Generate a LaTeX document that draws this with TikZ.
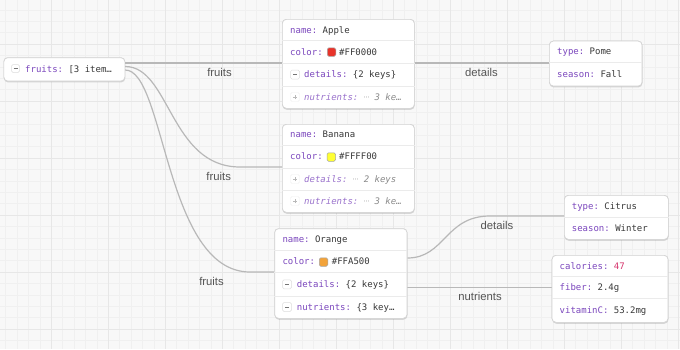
\documentclass[tikz,border=0pt]{standalone}
\usepackage{fontspec}
\setmainfont{Liberation Sans}
\setmonofont{DejaVu Sans Mono}
\newfontfamily\dejasans{DejaVu Sans}
\usetikzlibrary{shadows}
\definecolor{bgcol}{HTML}{F8F8F8}
\definecolor{minorcol}{HTML}{F0F0F0}
\definecolor{majorcol}{HTML}{E7E7E7}
\definecolor{boxline}{HTML}{D4D4D4}
\definecolor{sepcol}{HTML}{EBEBEB}
\definecolor{keycol}{HTML}{7B47BD}
\definecolor{keylight}{HTML}{9A72CC}
\definecolor{valcol}{HTML}{383838}
\definecolor{greycol}{HTML}{8A8A8A}
\definecolor{numcol}{HTML}{D6336C}
\definecolor{edgecol}{HTML}{B8B8B8}
\definecolor{labcol}{HTML}{555555}
\definecolor{btnline}{HTML}{DDDDDD}
\definecolor{swred}{HTML}{E8332A}
\definecolor{swyellow}{HTML}{FFFF33}
\definecolor{sworange}{HTML}{F2A33A}
\newcommand{\mtext}{\fontsize{9}{10}\selectfont\ttfamily}
\newcommand{\ltext}{\fontsize{11.3}{13}\selectfont\rmfamily}
\newcommand{\mdots}{\makebox[0.602em][c]{\raisebox{0.3pt}{\fontsize{6.5}{7}\selectfont\dejasans ⋯}}}
\tikzset{
  box/.style={draw=boxline, fill=white, line width=0.7pt, rounded corners=4pt,
    inner sep=0pt, anchor=north west,
    drop shadow={shadow xshift=0.3pt, shadow yshift=-1.4pt, opacity=0.15}},
  sepline/.style={draw=sepcol, line width=0.6pt},
  txt/.style={anchor=base west, inner sep=0pt, font=\mtext, text=valcol},
  coll/.style={anchor=base west, inner sep=0pt, font=\mtext\itshape, text=greycol},
  btn/.style={draw=btnline, fill=white, rounded corners=1.5pt, minimum size=9pt,
    inner sep=0pt, line width=0.5pt},
  pbtn/.style={draw=btnline!45, fill=white, rounded corners=1.5pt, minimum size=9pt,
    inner sep=0pt, line width=0.4pt},
  btnminus/.style={draw=valcol!70, line width=0.7pt},
  btnplus/.style={draw=greycol!60, line width=0.6pt},
  swatch/.style={draw=black!35, rounded corners=1.5pt, minimum size=8.5pt,
    inner sep=0pt, line width=0.5pt},
  edge/.style={draw=edgecol, line width=1.2pt},
  elabel/.style={font=\ltext, text=labcol, inner sep=0pt, anchor=center},
}
\begin{document}
\begin{tikzpicture}[x=1pt, y=-1pt]
\useasboundingbox (0,0) rectangle (680,349);
\fill[bgcol] (0,0) rectangle (680,349);
% grid
\foreach \i in {0,...,60} {\draw[minorcol, line width=0.5pt] ({-5.7+11.4*\i},0) -- ({-5.7+11.4*\i},349);}
\foreach \i in {0,...,31} {\draw[minorcol, line width=0.5pt] (0,{-1.6+11.4*\i}) -- (680,{-1.6+11.4*\i});}
\foreach \i in {0,...,12} {\draw[majorcol, line width=0.8pt] ({-5.7+57*\i},0) -- ({-5.7+57*\i},349);}
\foreach \i in {0,...,7} {\draw[majorcol, line width=0.8pt] (0,{-13+57*\i}) -- (680,{-13+57*\i});}

% ---------- boxes ----------
\node[box, minimum width=121pt, minimum height=23.4pt] (root) at (3.5,57.3) {};
\node[box, minimum width=132pt, minimum height=89pt] (apple) at (282,19) {};
\node[box, minimum width=132pt, minimum height=88pt] (banana) at (282,124) {};
\node[box, minimum width=132.4pt, minimum height=89.7pt] (orange) at (274.3,228.3) {};
\node[box, minimum width=92.7pt, minimum height=45pt] (pome) at (549,40.7) {};
\node[box, minimum width=104pt, minimum height=44pt] (citrus) at (564,195) {};
\node[box, minimum width=116pt, minimum height=67pt] (nutri) at (551.7,255) {};

% ---------- edges ----------
\draw[edge] (root.east |- 0,63) -- (apple.west |- 0,63);
\draw[edge] (root.east |- 0,66.5) .. controls (170,66.5) and (170,167) .. (240,167) -- (banana.west |- 0,167);
\draw[edge] (root.east |- 0,70) .. controls (165,70) and (165,272) .. (250,272) -- (orange.west |- 0,272);
\draw[edge] (apple.east |- 0,63) -- (pome.west |- 0,63);
\draw[edge] (orange.east |- 0,258) .. controls (445,258) and (445,216) .. (490,216) -- (citrus.west |- 0,216);
\draw[edge] (orange.east |- 0,287.5) -- (nutri.west |- 0,287.5);

\node[elabel] (lf1) at (219.5,72) {fruits};
\node[elabel] (lf2) at (218.7,176.7) {fruits};
\node[elabel] (lf3) at (211.5,281.7) {fruits};
\node[elabel] (ld1) at (481.5,72) {details};
\node[elabel] (ld2) at (497,225) {details};
\node[elabel] (ln) at (480,296.7) {nutrients};

% redraw boxes on top of edges
\node[box, minimum width=121pt, minimum height=23.4pt] at (3.5,57.3) {};
\node[box, minimum width=132pt, minimum height=89pt] at (282,19) {};
\node[box, minimum width=132pt, minimum height=88pt] at (282,124) {};
\node[box, minimum width=132.4pt, minimum height=89.7pt] at (274.3,228.3) {};
\node[box, minimum width=92.7pt, minimum height=45pt] at (549,40.7) {};
\node[box, minimum width=104pt, minimum height=44pt] at (564,195) {};
\node[box, minimum width=116pt, minimum height=67pt] at (551.7,255) {};

% ---------- root ----------
\node[btn, minimum size=8pt] (rootbtn) at (15.5,68.5) {};
\draw[btnminus] ([xshift=-2pt]rootbtn.center) -- ([xshift=2pt]rootbtn.center);
\node[txt] (roott) at (25,72) {\textcolor{keycol}{fruits:} [3 item…};

% ---------- apple ----------
\foreach \y in {40.7,63.3,86} {\draw[sepline] (apple.west |- 0,\y) -- (apple.east |- 0,\y);}
\node[txt] (a1) at (290,33) {\textcolor{keycol}{name:} Apple};
\node[txt] (a2) at (290,55.2) {\textcolor{keycol}{color:}};
\node[swatch, fill=swred] (asw) at (331.5,52) {};
\node[txt] (a2v) at (339,55.2) {\#FF0000};
\node[btn] (ab3) at (295,74.6) {};
\draw[btnminus] ([xshift=-2pt]ab3.center) -- ([xshift=2pt]ab3.center);
\node[txt] (a3) at (304,77.8) {\textcolor{keycol}{details:} \{2 keys\}};
\node[pbtn] (ab4) at (295,97) {};
\draw[btnplus] ([xshift=-2pt]ab4.center) -- ([xshift=2pt]ab4.center);
\draw[btnplus] ([yshift=-2pt]ab4.center) -- ([yshift=2pt]ab4.center);
\node[coll] (a4) at (304,100.2) {\textcolor{keylight}{nutrients:} \mdots\ 3 ke…};

% ---------- banana ----------
\foreach \y in {145,168,190} {\draw[sepline] (banana.west |- 0,\y) -- (banana.east |- 0,\y);}
\node[txt] (b1) at (290,137.7) {\textcolor{keycol}{name:} Banana};
\node[txt] (b2) at (290,159.9) {\textcolor{keycol}{color:}};
\node[swatch, fill=swyellow] (bsw) at (331.3,157) {};
\node[txt] (b2v) at (339,159.9) {\#FFFF00};
\node[pbtn] (bb3) at (295,179) {};
\draw[btnplus] ([xshift=-2pt]bb3.center) -- ([xshift=2pt]bb3.center);
\draw[btnplus] ([yshift=-2pt]bb3.center) -- ([yshift=2pt]bb3.center);
\node[coll] (b3) at (304,182.2) {\textcolor{keylight}{details:} \mdots\ 2 keys};
\node[pbtn] (bb4) at (295,201) {};
\draw[btnplus] ([xshift=-2pt]bb4.center) -- ([xshift=2pt]bb4.center);
\draw[btnplus] ([yshift=-2pt]bb4.center) -- ([yshift=2pt]bb4.center);
\node[coll] (b4) at (304,204.2) {\textcolor{keylight}{nutrients:} \mdots\ 3 ke…};

% ---------- orange ----------
\foreach \y in {250.7,272.7,296} {\draw[sepline] (orange.west |- 0,\y) -- (orange.east |- 0,\y);}
\node[txt] (o1) at (282.3,242.7) {\textcolor{keycol}{name:} Orange};
\node[txt] (o2) at (282.3,264.9) {\textcolor{keycol}{color:}};
\node[swatch, fill=sworange] (osw) at (323.5,262) {};
\node[txt] (o2v) at (331.7,264.9) {\#FFA500};
\node[btn] (ob3) at (287,284.3) {};
\draw[btnminus] ([xshift=-2pt]ob3.center) -- ([xshift=2pt]ob3.center);
\node[txt] (o3) at (296.7,287.5) {\textcolor{keycol}{details:} \{2 keys\}};
\node[btn] (ob4) at (287,307) {};
\draw[btnminus] ([xshift=-2pt]ob4.center) -- ([xshift=2pt]ob4.center);
\node[txt] (o4) at (296.7,310.2) {\textcolor{keycol}{nutrients:} \{3 key…};

% ---------- pome ----------
\draw[sepline] (pome.west |- 0,62.3) -- (pome.east |- 0,62.3);
\node[txt] (p1) at (557,54.7) {\textcolor{keycol}{type:} Pome};
\node[txt] (p2) at (557,77.2) {\textcolor{keycol}{season:} Fall};

% ---------- citrus ----------
\draw[sepline] (citrus.west |- 0,217) -- (citrus.east |- 0,217);
\node[txt] (c1) at (571.7,209.2) {\textcolor{keycol}{type:} Citrus};
\node[txt] (c2) at (571.7,231.2) {\textcolor{keycol}{season:} Winter};

% ---------- nutrients ----------
\foreach \y in {276.7,298.3} {\draw[sepline] (nutri.west |- 0,\y) -- (nutri.east |- 0,\y);}
\node[txt] (n1) at (559.5,269) {\textcolor{keycol}{calories:} \textcolor{numcol}{47}};
\node[txt] (n2) at (559.5,290.7) {\textcolor{keycol}{fiber:} 2.4g};
\node[txt] (n3) at (559.5,313.2) {\textcolor{keycol}{vitaminC:} 53.2mg};
\end{tikzpicture}
\end{document}
